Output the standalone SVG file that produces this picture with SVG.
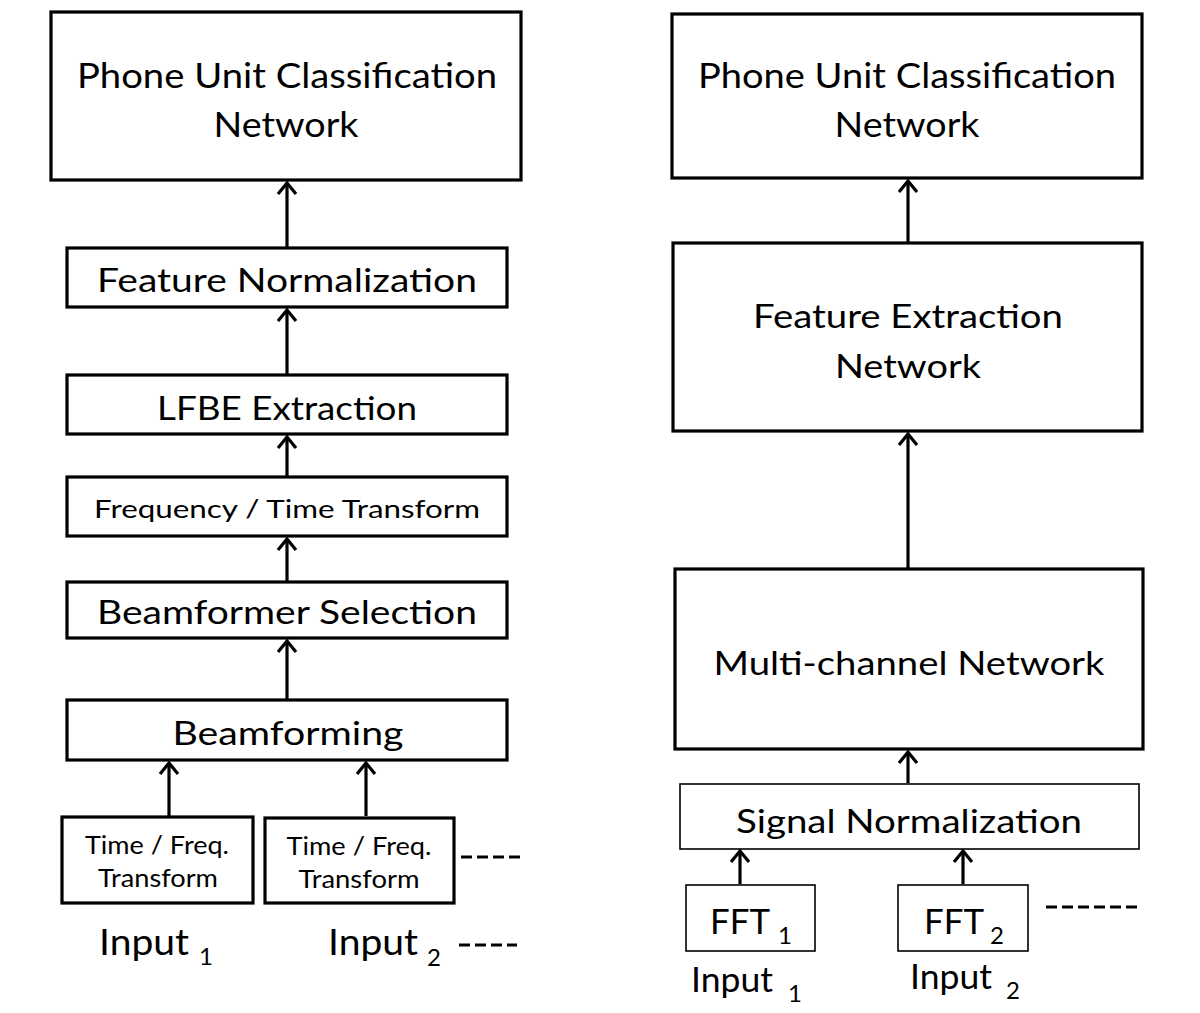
<svg xmlns="http://www.w3.org/2000/svg" width="1200" height="1013" viewBox="0 0 1200 1013">
<style>
.b{fill:#fff;stroke:#000;stroke-width:3.2}
.t{fill:#fff;stroke:#000;stroke-width:1.6}
.c{stroke:#000;stroke-width:3.2;fill:none}
text{font-family:Lato,"Open Sans","Liberation Sans",sans-serif;fill:#000}
.L{font-size:35px}
.M{font-size:33px}
.S{font-size:25px}
.sub{font-size:24px}
.d{stroke:#000;stroke-width:3;stroke-dasharray:11 5;fill:none}
</style>
<defs>
<marker id="ah" markerUnits="userSpaceOnUse" markerWidth="24" markerHeight="24" refX="14" refY="12" orient="auto" viewBox="0 0 24 24" overflow="visible">
<path d="M3 3 L14 12 L3 21" fill="none" stroke="#000" stroke-width="3.2"/>
</marker>
</defs>
<rect width="1200" height="1013" fill="#fff"/>
<g id="connectors">
<line class="c" x1="287" y1="247" x2="287" y2="183" marker-end="url(#ah)"/>
<line class="c" x1="287" y1="374" x2="287" y2="310" marker-end="url(#ah)"/>
<line class="c" x1="287" y1="477" x2="287" y2="437" marker-end="url(#ah)"/>
<line class="c" x1="287" y1="581" x2="287" y2="539" marker-end="url(#ah)"/>
<line class="c" x1="287" y1="699" x2="287" y2="641" marker-end="url(#ah)"/>
<line class="c" x1="169" y1="816" x2="169" y2="763" marker-end="url(#ah)"/>
<line class="c" x1="366" y1="816" x2="366" y2="763" marker-end="url(#ah)"/>
<line class="c" x1="908" y1="242" x2="908" y2="181" marker-end="url(#ah)"/>
<line class="c" x1="908" y1="568" x2="908" y2="434" marker-end="url(#ah)"/>
<line class="c" x1="908" y1="783" x2="908" y2="752" marker-end="url(#ah)"/>
<line class="c" x1="740" y1="884" x2="740" y2="851" marker-end="url(#ah)"/>
<line class="c" x1="963" y1="884" x2="963" y2="851" marker-end="url(#ah)"/>
</g>
<g id="left-phone">
<rect class="b" x="51" y="12" width="470" height="168"/>
<text class="L" x="287" y="88" text-anchor="middle" textLength="420" lengthAdjust="spacingAndGlyphs">Phone Unit Classification</text>
<text class="L" x="286" y="137" text-anchor="middle" textLength="145" lengthAdjust="spacingAndGlyphs">Network</text>
</g>
<g id="feature-normalization">
<rect class="b" x="67" y="248" width="440" height="59"/>
<text class="M" x="287" y="292" text-anchor="middle" textLength="380" lengthAdjust="spacingAndGlyphs">Feature Normalization</text>
</g>
<g id="lfbe-extraction">
<rect class="b" x="67" y="375" width="440" height="59"/>
<text class="M" x="287" y="420" text-anchor="middle" textLength="260" lengthAdjust="spacingAndGlyphs">LFBE Extraction</text>
</g>
<g id="freq-time-transform">
<rect class="b" x="67" y="477" width="440" height="59"/>
<text class="S" x="287" y="518" text-anchor="middle" textLength="386" lengthAdjust="spacingAndGlyphs">Frequency / Time Transform</text>
</g>
<g id="beamformer-selection">
<rect class="b" x="67" y="582" width="440" height="56"/>
<text class="M" x="287" y="624" text-anchor="middle" textLength="380" lengthAdjust="spacingAndGlyphs">Beamformer Selection</text>
</g>
<g id="beamforming">
<rect class="b" x="67" y="700" width="440" height="60"/>
<text class="M" x="288" y="745" text-anchor="middle" textLength="231" lengthAdjust="spacingAndGlyphs">Beamforming</text>
</g>
<g id="tf-transform-1">
<rect class="b" x="62" y="817" width="191" height="86"/>
<text class="S" x="157" y="854" text-anchor="middle" textLength="144" lengthAdjust="spacingAndGlyphs">Time / Freq.</text>
<text class="S" x="158" y="887" text-anchor="middle" textLength="120" lengthAdjust="spacingAndGlyphs">Transform</text>
</g>
<g id="tf-transform-2">
<rect class="b" x="265" y="818" width="189" height="85"/>
<text class="S" x="359" y="855" text-anchor="middle" textLength="145" lengthAdjust="spacingAndGlyphs">Time / Freq.</text>
<text class="S" x="359" y="888" text-anchor="middle" textLength="121" lengthAdjust="spacingAndGlyphs">Transform</text>
</g>
<line class="d" x1="461" y1="857" x2="521" y2="857"/>
<g id="left-input-1">
<text x="99" y="955" font-size="36" textLength="90" lengthAdjust="spacingAndGlyphs">Input</text>
<text class="sub" x="199" y="965">1</text>
</g>
<g id="left-input-2">
<text x="328" y="955" font-size="36" textLength="90" lengthAdjust="spacingAndGlyphs">Input</text>
<text class="sub" x="427" y="966">2</text>
</g>
<line class="d" x1="459" y1="945" x2="517" y2="945"/>
<g id="right-phone">
<rect class="b" x="672" y="14" width="470" height="164"/>
<text class="L" x="907" y="88" text-anchor="middle" textLength="418" lengthAdjust="spacingAndGlyphs">Phone Unit Classification</text>
<text class="L" x="907" y="137" text-anchor="middle" textLength="145" lengthAdjust="spacingAndGlyphs">Network</text>
</g>
<g id="feature-extraction-network">
<rect class="b" x="673" y="243" width="469" height="188"/>
<text class="M" x="908" y="328" text-anchor="middle" textLength="310" lengthAdjust="spacingAndGlyphs">Feature Extraction</text>
<text class="M" x="908" y="378" text-anchor="middle" textLength="146" lengthAdjust="spacingAndGlyphs">Network</text>
</g>
<g id="multi-channel-network">
<rect class="b" x="675" y="569" width="468" height="180"/>
<text class="M" x="909" y="675" text-anchor="middle" textLength="391" lengthAdjust="spacingAndGlyphs">Multi-channel Network</text>
</g>
<g id="signal-normalization">
<rect class="t" x="680" y="784" width="459" height="65"/>
<text class="M" x="909" y="833" text-anchor="middle" textLength="346" lengthAdjust="spacingAndGlyphs">Signal Normalization</text>
</g>
<g id="fft-1">
<rect class="t" x="686" y="885" width="129" height="66"/>
<text x="710" y="934" font-size="35" textLength="60" lengthAdjust="spacingAndGlyphs">FFT</text>
<text class="sub" x="778" y="944" font-size="22">1</text>
</g>
<g id="fft-2">
<rect class="t" x="898" y="885" width="130" height="66"/>
<text x="924" y="934" font-size="35" textLength="60" lengthAdjust="spacingAndGlyphs">FFT</text>
<text class="sub" x="990" y="944" font-size="22">2</text>
</g>
<line class="d" x1="1046" y1="907" x2="1137" y2="907"/>
<g id="right-input-1">
<text x="691" y="992" font-size="34" textLength="82" lengthAdjust="spacingAndGlyphs">Input</text>
<text class="sub" x="788" y="1002">1</text>
</g>
<g id="right-input-2">
<text x="910" y="989" font-size="34" textLength="82" lengthAdjust="spacingAndGlyphs">Input</text>
<text class="sub" x="1006" y="999">2</text>
</g>
</svg>
